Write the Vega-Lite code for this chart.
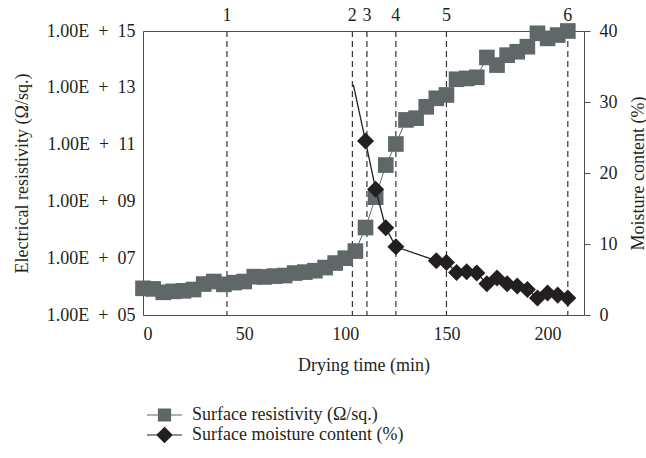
{
  "$schema": "https://vega.github.io/schema/vega-lite/v6.json",
  "width": 441,
  "height": 284,
  "autosize": "none",
  "padding": {"left": 143, "top": 31, "right": 62, "bottom": 143},
  "background": "white",
  "config": {
    "font": "Liberation Serif",
    "view": {"stroke": "#4d4d4d", "strokeWidth": 1},
    "axis": {
      "domain": false,
      "grid": false,
      "labelFont": "Liberation Serif",
      "titleFont": "Liberation Serif",
      "labelFontSize": 18,
      "titleFontSize": 18,
      "titleFontWeight": "normal",
      "labelColor": "#231f20",
      "titleColor": "#231f20"
    },
    "legend": {
      "labelFont": "Liberation Serif",
      "labelFontSize": 18,
      "labelColor": "#231f20",
      "labelLimit": 400
    }
  },
  "datasets": {
    "lines": [
      {"t": 41.5, "label": "1"},
      {"t": 103.5, "label": "2"},
      {"t": 110.7, "label": "3"},
      {"t": 125, "label": "4"},
      {"t": 150, "label": "5"},
      {"t": 210, "label": "6"}
    ],
    "res": [
      {"t": 0, "r": 8.7e5, "series": "Surface resistivity (Ω/sq.)"},
      {"t": 5, "r": 8.3e5, "series": "Surface resistivity (Ω/sq.)"},
      {"t": 10, "r": 6.3e5, "series": "Surface resistivity (Ω/sq.)"},
      {"t": 15, "r": 6.8e5, "series": "Surface resistivity (Ω/sq.)"},
      {"t": 20, "r": 7.1e5, "series": "Surface resistivity (Ω/sq.)"},
      {"t": 25, "r": 7.9e5, "series": "Surface resistivity (Ω/sq.)"},
      {"t": 30, "r": 1.23e6, "series": "Surface resistivity (Ω/sq.)"},
      {"t": 35, "r": 1.51e6, "series": "Surface resistivity (Ω/sq.)"},
      {"t": 40, "r": 1.2e6, "series": "Surface resistivity (Ω/sq.)"},
      {"t": 45, "r": 1.38e6, "series": "Surface resistivity (Ω/sq.)"},
      {"t": 50, "r": 1.51e6, "series": "Surface resistivity (Ω/sq.)"},
      {"t": 55, "r": 2.24e6, "series": "Surface resistivity (Ω/sq.)"},
      {"t": 60, "r": 2.19e6, "series": "Surface resistivity (Ω/sq.)"},
      {"t": 65, "r": 2.34e6, "series": "Surface resistivity (Ω/sq.)"},
      {"t": 70, "r": 2.45e6, "series": "Surface resistivity (Ω/sq.)"},
      {"t": 75, "r": 3.0e6, "series": "Surface resistivity (Ω/sq.)"},
      {"t": 80, "r": 3.24e6, "series": "Surface resistivity (Ω/sq.)"},
      {"t": 85, "r": 3.63e6, "series": "Surface resistivity (Ω/sq.)"},
      {"t": 90, "r": 4.68e6, "series": "Surface resistivity (Ω/sq.)"},
      {"t": 95, "r": 6.76e6, "series": "Surface resistivity (Ω/sq.)"},
      {"t": 100, "r": 1.0e7, "series": "Surface resistivity (Ω/sq.)"},
      {"t": 105, "r": 1.78e7, "series": "Surface resistivity (Ω/sq.)"},
      {"t": 110, "r": 1.2e8, "series": "Surface resistivity (Ω/sq.)"},
      {"t": 115, "r": 1.41e9, "series": "Surface resistivity (Ω/sq.)"},
      {"t": 120, "r": 1.9e10, "series": "Surface resistivity (Ω/sq.)"},
      {"t": 125, "r": 1.05e11, "series": "Surface resistivity (Ω/sq.)"},
      {"t": 130, "r": 7.4e11, "series": "Surface resistivity (Ω/sq.)"},
      {"t": 135, "r": 8.5e11, "series": "Surface resistivity (Ω/sq.)"},
      {"t": 140, "r": 2.14e12, "series": "Surface resistivity (Ω/sq.)"},
      {"t": 145, "r": 4.27e12, "series": "Surface resistivity (Ω/sq.)"},
      {"t": 150, "r": 5.6e12, "series": "Surface resistivity (Ω/sq.)"},
      {"t": 155, "r": 2.0e13, "series": "Surface resistivity (Ω/sq.)"},
      {"t": 160, "r": 2.14e13, "series": "Surface resistivity (Ω/sq.)"},
      {"t": 165, "r": 2.34e13, "series": "Surface resistivity (Ω/sq.)"},
      {"t": 170, "r": 1.17e14, "series": "Surface resistivity (Ω/sq.)"},
      {"t": 175, "r": 6.3e13, "series": "Surface resistivity (Ω/sq.)"},
      {"t": 180, "r": 1.41e14, "series": "Surface resistivity (Ω/sq.)"},
      {"t": 185, "r": 1.86e14, "series": "Surface resistivity (Ω/sq.)"},
      {"t": 190, "r": 2.8e14, "series": "Surface resistivity (Ω/sq.)"},
      {"t": 195, "r": 8.3e14, "series": "Surface resistivity (Ω/sq.)"},
      {"t": 200, "r": 5.5e14, "series": "Surface resistivity (Ω/sq.)"},
      {"t": 205, "r": 7.2e14, "series": "Surface resistivity (Ω/sq.)"},
      {"t": 210, "r": 1.0e15, "series": "Surface resistivity (Ω/sq.)"}
    ],
    "moist": [
      {"t": 104, "m": 32.4, "series": "Surface moisture content (%)"},
      {"t": 110, "m": 24.5, "series": "Surface moisture content (%)"},
      {"t": 115, "m": 17.7, "series": "Surface moisture content (%)"},
      {"t": 120, "m": 12.3, "series": "Surface moisture content (%)"},
      {"t": 125, "m": 9.6, "series": "Surface moisture content (%)"},
      {"t": 145, "m": 7.65, "series": "Surface moisture content (%)"},
      {"t": 150, "m": 7.4, "series": "Surface moisture content (%)"},
      {"t": 155, "m": 6.0, "series": "Surface moisture content (%)"},
      {"t": 160, "m": 6.1, "series": "Surface moisture content (%)"},
      {"t": 165, "m": 5.9, "series": "Surface moisture content (%)"},
      {"t": 170, "m": 4.4, "series": "Surface moisture content (%)"},
      {"t": 175, "m": 5.2, "series": "Surface moisture content (%)"},
      {"t": 180, "m": 4.4, "series": "Surface moisture content (%)"},
      {"t": 185, "m": 4.1, "series": "Surface moisture content (%)"},
      {"t": 190, "m": 3.6, "series": "Surface moisture content (%)"},
      {"t": 195, "m": 2.4, "series": "Surface moisture content (%)"},
      {"t": 200, "m": 3.1, "series": "Surface moisture content (%)"},
      {"t": 205, "m": 2.8, "series": "Surface moisture content (%)"},
      {"t": 210, "m": 2.4, "series": "Surface moisture content (%)"}
    ]
  },
  "layer": [
    {
      "layer": [
        {
          "data": {"name": "lines"},
          "mark": {"type": "rule", "color": "#333333", "strokeWidth": 1.2, "strokeDash": [6, 4]},
          "encoding": {
            "x": {
              "field": "t", "type": "quantitative",
              "scale": {"domain": [0, 218], "nice": false, "zero": false},
              "axis": {
                "values": [0, 50, 100, 150, 200],
                "ticks": false,
                "labelPadding": 10,
                "title": "Drying time (min)",
                "titleX": 220.5,
                "titleY": 50,
                "titleBaseline": "middle"
              }
            }
          }
        },
        {
          "data": {"name": "res"},
          "mark": {"type": "line", "strokeWidth": 1, "color": "#6b7375"},
          "encoding": {
            "x": {"field": "t", "type": "quantitative", "scale": {"domain": [0, 218], "nice": false, "zero": false}},
            "y": {
              "field": "r", "type": "quantitative",
              "scale": {"type": "log", "domain": [1e5, 1e15], "nice": false},
              "axis": {
                "values": [1e5, 1e7, 1e9, 1e11, 1e13, 1e15],
                "labelExpr": "'1.00E\u2002+\u2002' + format(round(log(datum.value)/LN10), '02d')",
                "ticks": false,
                "labelPadding": 8,
                "title": "Electrical resistivity (Ω/sq.)",
                "titleAngle": 270,
                "titleAlign": "center",
                "titleBaseline": "middle",
                "titleX": -121,
                "titleY": 142
              }
            },
            "color": {
              "field": "series", "type": "nominal",
              "scale": {"domain": ["Surface resistivity (Ω/sq.)", "Surface moisture content (%)"], "range": ["#5f6769", "#231f20"]},
              "legend": {
                "title": null,
                "orient": "none",
                "legendX": 12.5,
                "legendY": 375,
                "direction": "vertical",
                "padding": 0,
                "symbolSize": 100,
                "rowPadding": 1,
                "labelOffset": 18.5,
                "symbolStrokeWidth": 1.2,
                "encode": {
                  "symbols": {
                    "update": {
                      "shape": {"signal": "datum.value == 'Surface resistivity (Ω/sq.)' ? 'M-3.5,0H3.5M-1.2,-1.2H1.2V1.2H-1.2Z' : 'M-3.5,0H3.5M0,-1.5L1.5,0L0,1.5L-1.5,0Z'"},
                      "fill": {"signal": "datum.value == 'Surface resistivity (Ω/sq.)' ? '#5f6769' : '#231f20'"},
                      "stroke": {"signal": "datum.value == 'Surface resistivity (Ω/sq.)' ? '#5f6769' : '#231f20'"},
                      "opacity": {"value": 1},
                      "strokeWidth": {"value": 1.2}
                    }
                  }
                }
              }
            }
          }
        },
        {
          "data": {"name": "res"},
          "mark": {"type": "point", "shape": "square", "filled": true, "size": 245, "opacity": 1},
          "encoding": {
            "x": {"field": "t", "type": "quantitative", "scale": {"domain": [0, 218], "nice": false, "zero": false}},
            "y": {"field": "r", "type": "quantitative", "scale": {"type": "log", "domain": [1e5, 1e15], "nice": false}},
            "color": {"field": "series", "type": "nominal"}
          }
        },
        {
          "data": {"name": "lines"},
          "mark": {"type": "text", "fontSize": 18, "font": "Liberation Serif", "color": "#231f20", "baseline": "alphabetic", "align": "center", "dy": -10},
          "encoding": {
            "x": {"field": "t", "type": "quantitative", "scale": {"domain": [0, 218], "nice": false, "zero": false}},
            "y": {"datum": 1e15, "type": "quantitative", "scale": {"type": "log", "domain": [1e5, 1e15], "nice": false}},
            "text": {"field": "label"}
          }
        }
      ]
    },
    {
      "layer": [
        {
          "data": {"name": "moist"},
          "mark": {"type": "line", "strokeWidth": 1.3, "color": "#231f20"},
          "encoding": {
            "x": {"field": "t", "type": "quantitative", "scale": {"domain": [0, 218], "nice": false, "zero": false}},
            "y": {
              "field": "m", "type": "quantitative",
              "scale": {"domain": [0, 40], "nice": false},
              "axis": {
                "orient": "right",
                "values": [0, 10, 20, 30, 40],
                "tickSize": 6,
                "tickColor": "#4d4d4d",
                "labelPadding": 9,
                "title": "Moisture content (%)",
                "titleAngle": 270,
                "titleAlign": "center",
                "titleBaseline": "middle",
                "titleX": 54,
                "titleY": 142
              }
            },
            "color": {"field": "series", "type": "nominal"}
          }
        },
        {
          "data": {"name": "moist"},
          "transform": [{"filter": "datum.t > 105"}],
          "mark": {"type": "point", "shape": "diamond", "filled": true, "size": 290, "opacity": 1},
          "encoding": {
            "x": {"field": "t", "type": "quantitative", "scale": {"domain": [0, 218], "nice": false, "zero": false}},
            "y": {"field": "m", "type": "quantitative", "scale": {"domain": [0, 40], "nice": false}},
            "color": {"field": "series", "type": "nominal"}
          }
        }
      ]
    }
  ],
  "resolve": {"scale": {"y": "independent"}}
}
